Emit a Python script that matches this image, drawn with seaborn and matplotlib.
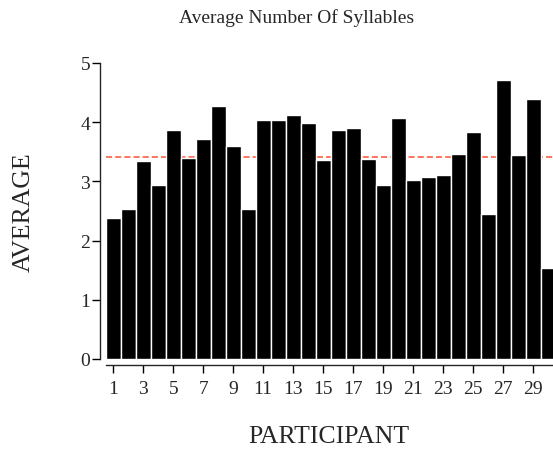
import numpy as np
import pandas as pd
import seaborn as sns
import matplotlib
matplotlib.use("Agg")
import matplotlib.pyplot as plt

# Data -------------------------------------------------------------------
participants = list(range(1, 31))
avg_syllables = [2.38, 2.54, 3.34, 2.94, 3.86, 3.40, 3.71, 4.27, 3.60, 2.54,
                 4.03, 4.03, 4.13, 3.99, 3.36, 3.87, 3.91, 3.38, 2.94, 4.07,
                 3.02, 3.07, 3.11, 3.47, 3.83, 2.45, 4.71, 3.45, 4.39, 1.54]
mean_value = 3.42
tick_labels = [str(p) for p in participants[::2]]

df = pd.DataFrame({"participant": participants, "average": avg_syllables})

# Figure -----------------------------------------------------------------
sns.set_style("ticks")
plt.rcParams["font.family"] = ["Liberation Serif", "DejaVu Serif"]

fig = plt.figure(figsize=(5.53, 4.52), dpi=100)
ax = fig.add_axes([105.7 / 553, 92 / 452, 450 / 553, 296 / 452])

sns.barplot(data=df, x="participant", y="average", color="black",
            width=1.0, edgecolor="white", linewidth=1.0, saturation=1,
            ax=ax, zorder=2)
# mean line sits behind the bars
ax.axhline(mean_value, color="#ff5030", linestyle=(0, (4, 2)),
           linewidth=1.1, zorder=1)

ax.set_ylim(0, 5)
ax.set_xlim(-0.5, 29.5)
ax.set_yticks([0, 1, 2, 3, 4, 5])
ax.set_xticks(range(0, 30, 2))
ax.set_xticklabels(tick_labels)

sns.despine(ax=ax)
ax.spines["left"].set_position(("outward", 4.3))
ax.spines["bottom"].set_position(("outward", 4.3))
ax.spines["left"].set_linewidth(1.0)
ax.spines["bottom"].set_linewidth(1.0)
ax.tick_params(axis="both", labelsize=14, length=5.5, width=1.0,
               direction="out", color="black")
ax.tick_params(axis="x", pad=5)
ax.tick_params(axis="y", pad=1.5)

ax.set_xlabel("")
ax.set_ylabel("")
fig.text(329 / 553, 1 - 437 / 452, "PARTICIPANT", fontsize=18.5,
         ha="center", va="center")
fig.text(24 / 553, 1 - 212 / 452, "AVERAGE", fontsize=18.5, rotation=90,
         ha="center", va="center")
fig.text(297 / 553, 1 - 18 / 452, "Average Number Of Syllables",
         fontsize=14, ha="center", va="center")

fig.savefig("out.png", dpi=100)
